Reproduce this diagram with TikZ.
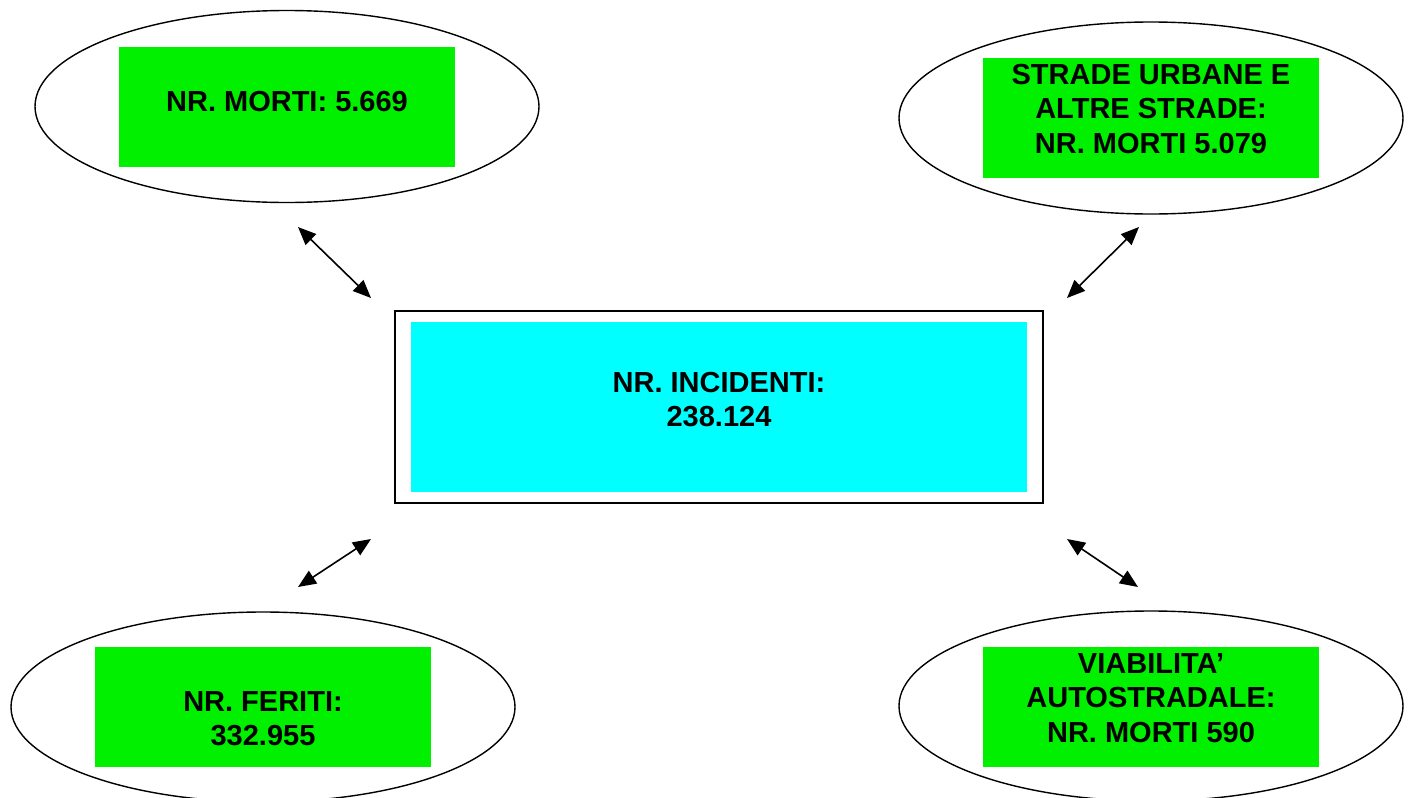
\documentclass[tikz,border=0pt]{standalone}
\usepackage{fontspec}
\setmainfont{Liberation Sans}
\usetikzlibrary{shapes.geometric,arrows.meta}
\definecolor{vgreen}{RGB}{0,240,0}
\definecolor{vcyan}{RGB}{0,255,255}
\tikzset{
  oval/.style={draw=black, line width=1.4pt, ellipse, inner sep=0pt, minimum width=504pt, minimum height=192pt},
  greenbox/.style={fill=vgreen, inner sep=0pt, minimum width=336pt, minimum height=120pt},
  lbl/.style={inner sep=0pt, align=center, font=\fontsize{29}{34.5}\bfseries\selectfont},
  link/.style={line width=1.6pt, {Triangle[length=18pt,width=15pt]}-{Triangle[length=18pt,width=15pt]}}
}
\begin{document}
\begin{tikzpicture}[x=1pt,y=-1pt]
\useasboundingbox (0,0) rectangle (1409,798);
\clip (0,0) rectangle (1409,798);
% ellipses
\node[oval] (e1) at (287,106.5) {};
\node[oval] (e2) at (1151,118) {};
\node[oval, minimum height=190pt] (e3) at (263,707) {};
\node[oval, minimum height=190pt] (e4) at (1151,706) {};
% green boxes
\node[greenbox] (g1) at (287,107) {};
\node[greenbox] (g2) at (1151,118) {};
\node[greenbox] (g3) at (263,707) {};
\node[greenbox] (g4) at (1151,707) {};
\node[lbl] (t1) at (287,102) {NR. MORTI: 5.669};
\node[lbl] (t2) at (1151,109) {STRADE URBANE E\\ALTRE STRADE:\\NR. MORTI 5.079};
\node[lbl] (t3) at (263,718.5) {NR. FERITI:\\332.955};
\node[lbl] (t4) at (1151,698) {VIABILITA'\\AUTOSTRADALE:\\NR. MORTI 590};
% centre
\node[draw=black, line width=1.8pt, minimum width=648pt, minimum height=192pt, inner sep=0pt] (c) at (719,407) {};
\node[fill=vcyan, minimum width=616pt, minimum height=170pt, inner sep=0pt] (ci) at (719,407) {};
\node[lbl] (tc) at (719,399.5) {NR. INCIDENTI:\\238.124};
% arrow ends
\coordinate (a1s) at (298,227); \coordinate (a1e) at (371,298);
\coordinate (a2s) at (1139,227); \coordinate (a2e) at (1067,298);
\coordinate (a3s) at (298,587); \coordinate (a3e) at (371,539);
\coordinate (a4s) at (1138,587); \coordinate (a4e) at (1067,539);
\draw[link] (a1s) -- (a1e);
\draw[link] (a2s) -- (a2e);
\draw[link] (a3s) -- (a3e);
\draw[link] (a4s) -- (a4e);
\end{tikzpicture}
\end{document}
